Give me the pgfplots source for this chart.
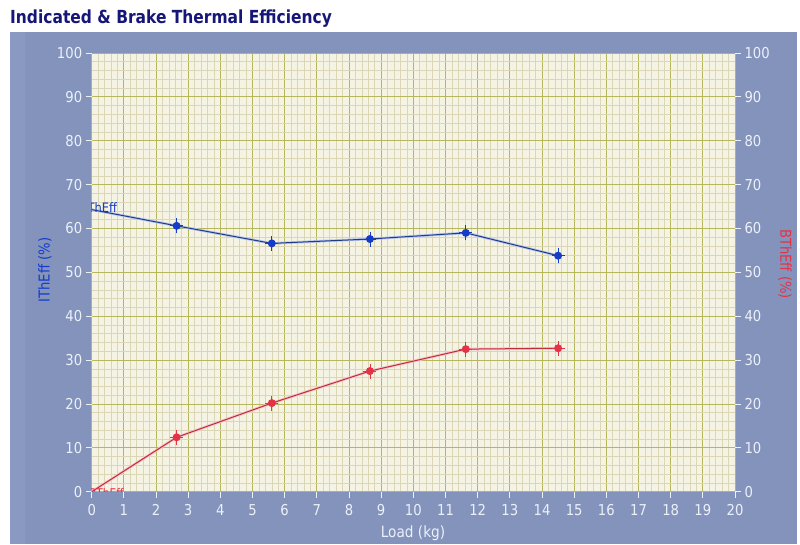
\documentclass[border=0pt]{standalone}
\usepackage{pgfplots}
\pgfplotsset{compat=1.18}
\usepackage{fontspec}
\setmainfont{DejaVu Sans}[FakeStretch=0.88]
\newfontfamily\titlefont{DejaVu Sans}[FakeStretch=0.86]
\definecolor{panel}{RGB}{131,147,188}
\definecolor{panelL}{RGB}{137,153,194}
\definecolor{plotbg}{RGB}{245,243,228}
\definecolor{majgrid}{RGB}{182,182,92}
\definecolor{mingrid}{RGB}{218,214,182}
\definecolor{titleblue}{RGB}{22,22,120}
\definecolor{tickwhite}{RGB}{236,240,248}
\definecolor{ithblue}{RGB}{20,60,200}
\definecolor{ithline}{RGB}{30,60,140}
\definecolor{bthred}{RGB}{228,50,70}
\pgfdeclareplotmark{cdot}{%
  \pgfpathmoveto{\pgfqpoint{0pt}{-7.5pt}}\pgfpathlineto{\pgfqpoint{0pt}{7.5pt}}%
  \pgfpathmoveto{\pgfqpoint{-6.5pt}{0pt}}\pgfpathlineto{\pgfqpoint{6.5pt}{0pt}}%
  \pgfusepathqstroke
  \pgfpathcircle{\pgfpoint{0pt}{0pt}}{4pt}\pgfusepathqfill
}
\begin{document}
\begin{tikzpicture}[x=1pt,y=1pt]
\fill[white] (0,0) rectangle (800,544);
\fill[panel] (10,0) rectangle (797,512);
\fill[panelL] (10,0) rectangle (25,512);
\node[anchor=base west, inner sep=0, text=titleblue, font=\titlefont\bfseries\fontsize{18}{20}\selectfont] at (10,520) {Indicated \& Brake Thermal Efficiency};
\begin{axis}[
  at={(91.7pt,52.3pt)}, anchor=south west,
  scale only axis, width=643.3pt, height=438.7pt,
  xmin=0, xmax=20, ymin=0, ymax=100,
  xtick={0,1,...,20}, ytick={0,10,...,100},
  minor x tick num=4, minor y tick num=4,
  grid=both,
  major grid style={draw=majgrid, line width=0.9pt},
  minor grid style={draw=mingrid, line width=0.6pt},
  axis background/.style={fill=plotbg},
  axis line style={draw=none},
  tick align=outside, major tick length=6pt, minor tick length=0pt,
  xtick pos=bottom, ytick pos=left,
  tick style={draw=tickwhite, line width=0.8pt},
  ticklabel style={text=tickwhite, font=\fontsize{15}{17}\selectfont},
  xticklabel style={yshift=-3pt},
  /pgf/number format/assume math mode=true,
  clip=true,
]
\addplot[ithblue!30, line width=2.6pt, forget plot] coordinates {(0,64.3) (2.64,60.6) (5.6,56.6) (8.65,57.6) (11.63,59.0) (14.5,53.8)};
\addplot[ithline, line width=1pt, mark=cdot, mark indices={2,3,4,5,6}, mark options={draw=ithblue, fill=ithblue, line width=0.8pt}] coordinates {(0,64.3) (2.64,60.6) (5.6,56.6) (8.65,57.6) (11.63,59.0) (14.5,53.8)};
\addplot[bthred!30, line width=2.6pt, forget plot] coordinates {(0,0) (2.64,12.4) (5.6,20.2) (8.65,27.5) (11.63,32.5) (14.5,32.7)};
\addplot[bthred!85!black, line width=1pt, mark=cdot, mark indices={2,3,4,5,6}, mark options={draw=bthred, fill=bthred, line width=0.8pt}] coordinates {(0,0) (2.64,12.4) (5.6,20.2) (8.65,27.5) (11.63,32.5) (14.5,32.7)};
\end{axis}
\begin{axis}[
  at={(91.7pt,52.3pt)}, anchor=south west,
  scale only axis, width=643.3pt, height=438.7pt,
  xmin=0, xmax=20, ymin=0, ymax=100,
  ytick={0,10,...,100}, xtick=\empty,
  axis line style={draw=none},
  tick align=outside, major tick length=6pt, minor tick length=0pt,
  ytick pos=right,
  tick style={draw=tickwhite, line width=0.8pt},
  ticklabel style={text=tickwhite, font=\fontsize{15}{17}\selectfont},
  /pgf/number format/assume math mode=true,
]
\addplot[draw=none] coordinates {(0,0)};
\end{axis}
\begin{scope}
\clip (91.7,52.3) rectangle (735,491);
\node[anchor=base west, inner sep=0, text=ithblue, font=\fontsize{13}{15}\selectfont] at (84,331) {IThEff};
\node[anchor=base west, inner sep=0, text=bthred, font=\fontsize{12}{14}\selectfont] at (89,47) {BThEff};
\end{scope}
\node[rotate=90, text=ithblue, font=\fontsize{15}{17}\selectfont] at (45,274) {IThEff (\%)};
\node[rotate=-90, text=bthred, font=\fontsize{15}{17}\selectfont] at (785,280) {BThEff (\%)};
\node[text=tickwhite, font=\fontsize{15.5}{17}\selectfont] at (413,11) {Load (kg)};
\end{tikzpicture}
\end{document}
